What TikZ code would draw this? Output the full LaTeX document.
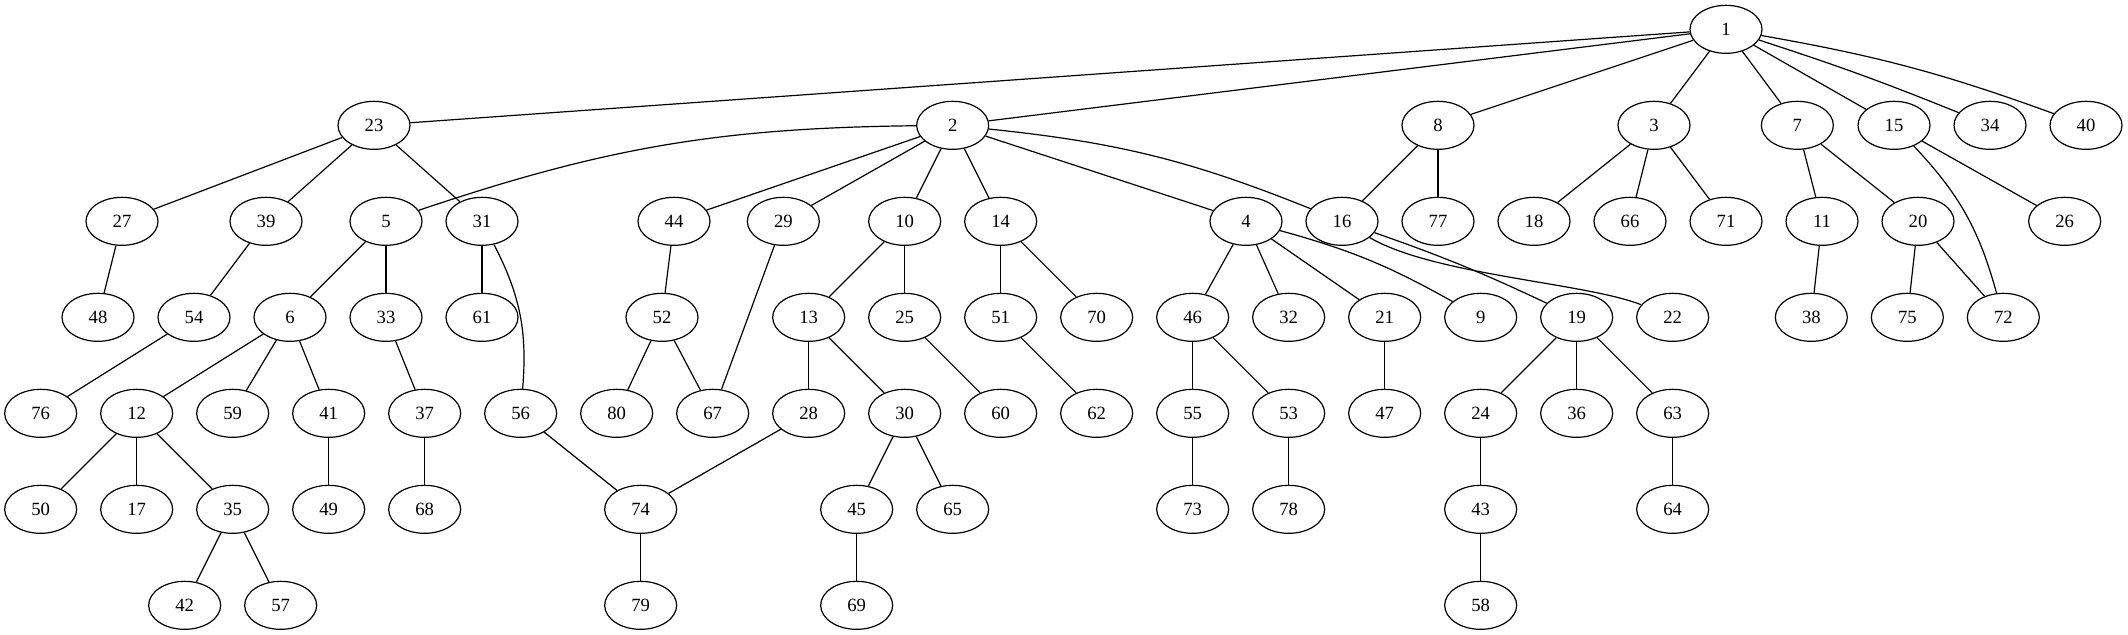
\documentclass[tikz,border=0pt]{standalone}
\usepackage{fontspec}
\setmainfont{Liberation Serif}
\usetikzlibrary{shapes.geometric}
\tikzset{
  nd/.style={draw, ellipse, minimum width=54pt, minimum height=36pt, inner sep=0pt, line width=0.9pt, font=\fontsize{14}{16}\selectfont},
  ed/.style={line width=0.9pt}
}
\begin{document}
\begin{tikzpicture}[x=1pt,y=1pt]
\useasboundingbox (0,0) rectangle (1596,476.25);
% rank 0
\node[nd] (n1) at (1294.5,454.25) {1};
% rank 1
\foreach \n/\x in {23/280.5,2/714.5,8/1078.5,3/1240.5,7/1348,15/1420.5,34/1492.5,40/1564.5}
  \node[nd] (n\n) at (\x,382.25) {\n};
% rank 2
\foreach \n/\x in {27/91.5,39/199.5,5/289.5,31/361.5,44/505.5,29/587.5,10/678.5,14/750.5,4/934.5,16/1006.5,77/1078.5,18/1150.5,66/1222.5,71/1294.5,11/1366.5,20/1438.5,26/1548.5}
  \node[nd] (n\n) at (\x,310.25) {\n};
% rank 3
\foreach \n/\x in {48/73.5,54/145.5,6/217.5,33/289.5,61/361.5,52/496.5,13/606.5,25/678.5,51/750.5,70/822.5,46/894.5,32/966.5,21/1038.5,9/1110.5,19/1182.5,22/1254.5,38/1358.5,75/1430.5,72/1502.5}
  \node[nd] (n\n) at (\x,238.25) {\n};
% rank 4
\foreach \n/\x in {76/30.5,12/102.5,59/174.5,41/246.5,37/318.5,56/390.5,80/462.5,67/534.5,28/606.5,30/678.5,60/750.5,62/822.5,55/894.5,53/966.5,47/1038.5,24/1110.5,36/1182.5,63/1254.5}
  \node[nd] (n\n) at (\x,166.25) {\n};
% rank 5
\foreach \n/\x in {50/30.5,17/102.5,35/174.5,49/246.5,68/318.5,74/480.5,45/642.5,65/714.5,73/894.5,78/966.5,43/1110.5,64/1254.5}
  \node[nd] (n\n) at (\x,94.25) {\n};
% rank 6
\foreach \n/\x in {42/138.5,57/210.5,79/480.5,69/642.5,58/1110.5}
  \node[nd] (n\n) at (\x,22.25) {\n};
% straight edges
\foreach \a/\b in {1/23,1/2,1/8,1/3,1/7,1/15,
  23/27,23/39,23/31,
  2/44,2/29,2/10,2/14,2/4,
  8/16,8/77,3/18,3/66,3/71,7/11,7/20,15/26,
  27/48,39/54,5/6,5/33,31/61,44/52,29/67,10/13,10/25,14/51,14/70,
  4/46,4/32,4/21,11/38,20/75,20/72,
  54/76,6/12,6/59,6/41,33/37,52/80,52/67,13/28,13/30,25/60,51/62,
  46/55,46/53,21/47,19/24,19/36,19/63,
  12/50,12/17,12/35,41/49,37/68,56/74,28/74,30/45,30/65,55/73,53/78,24/43,63/64,
  35/42,35/57,74/79,45/69,43/58}
  \draw[ed] (n\a) -- (n\b);
% curved edges
\draw[ed] (n1) to[bend left=2] (n34);
\draw[ed] (n1) to[bend left=5] (n40);
\draw[ed] (n2) to[bend right=9] (n5);
\draw[ed] (n2) to[bend left=8] (n16);
\draw[ed] (n15) to[bend left=14] (n72);
\draw[ed] (n31) to[bend left=16] (n56);
\draw[ed] (n4) to[bend left=7] (n9);
\draw[ed] (n16) to[bend left=3] (n19);
\draw[ed] (n16) .. controls (1075,270) and (1190,264) .. (n22);
\end{tikzpicture}
\end{document}
